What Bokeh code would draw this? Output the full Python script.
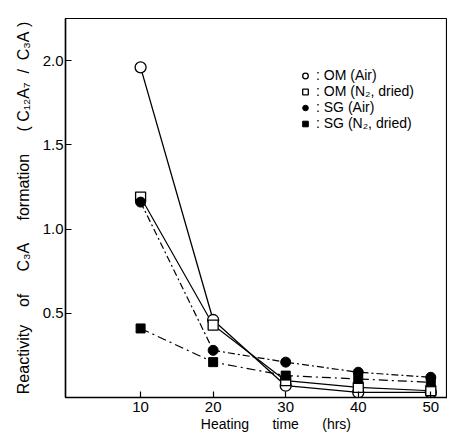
from bokeh.plotting import figure
from bokeh.models import Range1d, FixedTicker, Legend, LegendItem
from bokeh.embed import file_html
from bokeh.resources import INLINE

hours = [10, 20, 30, 40, 50]
om_air = [1.96, 0.46, 0.07, 0.03, 0.03]
om_n2 = [1.19, 0.43, 0.10, 0.06, 0.04]
sg_air = [1.16, 0.28, 0.21, 0.15, 0.12]
sg_n2 = [0.41, 0.21, 0.13, 0.11, 0.09]

x_ticks = [10, 20, 30, 40, 50]
y_ticks = [0.5, 1.0, 1.5, 2.0]
y_tick_labels = {0.5: "0.5", 1.0: "1.0", 1.5: "1.5", 2.0: "2.0"}

FONT = "Liberation Sans"
NB = "\u00a0"

p = figure(width=447, height=434, output_backend="svg", toolbar_location=None,
           x_range=Range1d(-0.35, 52.3), y_range=Range1d(0, 2.25),
           min_border_left=65, min_border_right=0, min_border_top=18, min_border_bottom=34)
p.background_fill_color = "white"
p.border_fill_color = "white"
p.outline_line_color = "black"
p.outline_line_width = 1.2
p.grid.visible = False

p.xaxis.ticker = FixedTicker(ticks=x_ticks)
p.yaxis.ticker = FixedTicker(ticks=y_ticks)
p.yaxis.major_label_overrides = y_tick_labels
for ax in (p.xaxis, p.yaxis):
    ax.major_tick_in = 6
    ax.major_tick_out = 0
    ax.minor_tick_in = 0
    ax.minor_tick_out = 0
    ax.axis_line_width = 1.5
    ax.major_tick_line_width = 1.2
    ax.major_label_text_font = FONT
    ax.major_label_text_font_size = "15px"
    ax.major_label_text_color = "black"
    ax.axis_label_text_font = FONT
    ax.axis_label_text_font_style = "normal"
    ax.axis_label_text_color = "black"

p.xaxis.axis_label_text_font_size = "14px"
p.yaxis.axis_label_text_font_size = "16px"
p.xaxis.major_label_standoff = 4
p.xaxis.axis_label_standoff = 1
p.yaxis.major_label_standoff = 2
p.yaxis.axis_label_standoff = 8
p.xaxis.axis_label = NB * 10 + f"Heating{NB*6}time{NB*6}(hrs)"
p.yaxis.axis_label = (f"Reactivity{NB*4}of{NB*5}C\u2083A{NB*5}formation{NB*5}"
                      f"({NB}C\u2081\u2082A\u2087{NB*2}/{NB*2}C\u2083A{NB})")

p.line(hours, om_air, line_color="black", line_width=1.3)
p.line(hours, om_n2, line_color="black", line_width=1.2)
p.line(hours, sg_air, line_color="black", line_width=1.2, line_dash="7 3 2 3")
p.line(hours, sg_n2, line_color="black", line_width=1.2, line_dash="9 4 2 4")

r1 = p.scatter(hours, om_air, marker="circle", size=11, fill_color="white",
               line_color="black", line_width=1.3)
r2 = p.scatter(hours, om_n2, marker="square", size=10, fill_color="white",
               line_color="black", line_width=1.3)
r3 = p.scatter(hours, sg_air, marker="circle", size=10, fill_color="black",
               line_color="black")
r4 = p.scatter(hours, sg_n2, marker="square", size=9, fill_color="black",
               line_color="black")

legend = Legend(items=[
    LegendItem(label=f":{NB}OM{NB}(Air)", renderers=[r1]),
    LegendItem(label=f":{NB}OM{NB}(N\u2082,{NB}dried)", renderers=[r2]),
    LegendItem(label=f":{NB}SG{NB}(Air)", renderers=[r3]),
    LegendItem(label=f":{NB}SG{NB}(N\u2082,{NB}dried)", renderers=[r4]),
], location=(233, 266))
legend.border_line_color = None
legend.background_fill_alpha = 0
legend.padding = 0
legend.margin = 0
legend.spacing = 0
legend.glyph_width = 14
legend.glyph_height = 15
legend.label_height = 15
legend.label_standoff = 4
legend.label_text_font = FONT
legend.label_text_font_size = "14px"
legend.label_text_color = "black"
p.add_layout(legend)

open("out.html", "w").write(file_html(p, INLINE))
